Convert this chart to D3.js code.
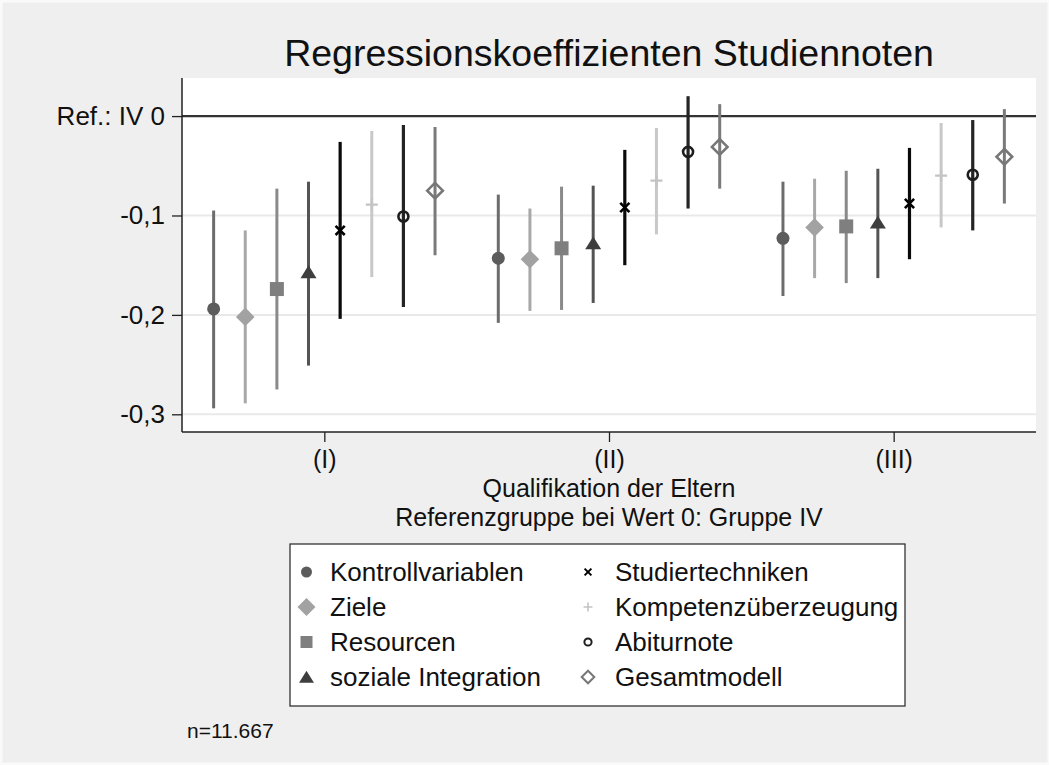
<!DOCTYPE html>
<html><head><meta charset="utf-8">
<script src="https://cdn.jsdelivr.net/npm/d3@7"></script>
<style>
html,body{margin:0;padding:0;background:#fafafa;}
svg{display:block;font-family:Arial,"Liberation Sans",sans-serif;}
</style></head>
<body>
<svg id="chart" width="1049" height="765"></svg>
<script>
// ---- data ----
const groups = ["(I)", "(II)", "(III)"];
const seriesNames = ["Kontrollvariablen","Ziele","Resourcen","soziale Integration","Studiertechniken","Kompetenzüberzeugung","Abiturnote","Gesamtmodell"];
const kontrollCoef = [-0.194, -0.143, -0.123];
const kontrollLo   = [-0.294, -0.208, -0.181];
const kontrollHi   = [-0.095, -0.079, -0.066];
const zieleCoef = [-0.202, -0.144, -0.112];
const zieleLo   = [-0.289, -0.196, -0.163];
const zieleHi   = [-0.115, -0.093, -0.063];
const resCoef = [-0.174, -0.133, -0.111];
const resLo   = [-0.275, -0.195, -0.168];
const resHi   = [-0.073, -0.071, -0.055];
const sozCoef = [-0.157, -0.128, -0.107];
const sozLo   = [-0.251, -0.188, -0.163];
const sozHi   = [-0.066, -0.070, -0.053];
const studCoef = [-0.115, -0.092, -0.088];
const studLo   = [-0.204, -0.150, -0.144];
const studHi   = [-0.026, -0.034, -0.032];
const kompCoef = [-0.089, -0.065, -0.060];
const kompLo   = [-0.162, -0.119, -0.112];
const kompHi   = [-0.015, -0.012, -0.007];
const abiCoef = [-0.101, -0.036, -0.059];
const abiLo   = [-0.192, -0.093, -0.115];
const abiHi   = [-0.009, 0.020, -0.004];
const gesCoef = [-0.075, -0.031, -0.041];
const gesLo   = [-0.140, -0.073, -0.088];
const gesHi   = [-0.011, 0.012, 0.007];
const yTickValues = [0, -0.1, -0.2, -0.3];
const yTickLabels = ["Ref.: IV 0", "-0,1", "-0,2", "-0,3"];
const titleText = "Regressionskoeffizienten Studiennoten";
const xTitle1 = "Qualifikation der Eltern";
const xTitle2 = "Referenzgruppe bei Wert 0: Gruppe IV";
const noteText = "n=11.667";

const coefs = [kontrollCoef, zieleCoef, resCoef, sozCoef, studCoef, kompCoef, abiCoef, gesCoef];
const los = [kontrollLo, zieleLo, resLo, sozLo, studLo, kompLo, abiLo, gesLo];
const his = [kontrollHi, zieleHi, resHi, sozHi, studHi, kompHi, abiHi, gesHi];

// ---- styles ----
const styles = [
  {shape:"circle",   fill:"#5c5c5c", bar:"#6c6c6c", bw:3},
  {shape:"diamond",  fill:"#a2a2a2", bar:"#a8a8a8", bw:3},
  {shape:"square",   fill:"#7f7f7f", bar:"#8a8a8a", bw:3},
  {shape:"triangle", fill:"#3e3e3e", bar:"#545454", bw:3},
  {shape:"x",        fill:"#000000", bar:"#0a0a0a", bw:3.2},
  {shape:"plus",     fill:"#c4c4c4", bar:"#c8c8c8", bw:3},
  {shape:"ocircle",  fill:"#1e1e1e", bar:"#242424", bw:3.2},
  {shape:"odiamond", fill:"#777777", bar:"#7a7a7a", bw:3}
];

const svg = d3.select("#chart");
svg.append("rect").attr("x",2.5).attr("y",2.5).attr("width",1045).attr("height",760).attr("fill","#efefef");

const L = 182, R = 1036, T = 78, B = 432;
const x = d3.scaleLinear().domain([0.5, 3.5]).range([L, R]);
const y = d3.scaleLinear().domain([0.0383, -0.3178]).range([T, B]);

svg.append("rect").attr("x",L).attr("y",T).attr("width",R-L).attr("height",B-T).attr("fill","#ffffff");

// gridlines
svg.append("g").selectAll("line").data(yTickValues.filter(v=>v!==0)).join("line")
  .attr("x1",L).attr("x2",R).attr("y1",d=>y(d)).attr("y2",d=>y(d))
  .attr("stroke","#e9e9e9").attr("stroke-width",2);

// reference line
svg.append("line").attr("x1",L).attr("x2",R).attr("y1",y(0)).attr("y2",y(0))
  .attr("stroke","#333333").attr("stroke-width",2.2);

// y axis
const yAxis = d3.axisLeft(y).tickValues(yTickValues).tickSize(10).tickPadding(7)
  .tickFormat((d,i)=>yTickLabels[i]);
const gy = svg.append("g").attr("transform",`translate(${L},0)`).call(yAxis);
gy.select(".domain").attr("d",`M0,${T}V${B}`).attr("stroke","#222").attr("stroke-width",1.5);
gy.selectAll(".tick line").attr("stroke","#222").attr("stroke-width",1.3);
gy.selectAll(".tick text").attr("font-size",26).attr("fill","#111").attr("font-family","Arial, 'Liberation Sans', sans-serif");

// x axis
const xAxis = d3.axisBottom(x).tickValues([1,2,3]).tickSize(10).tickPadding(8)
  .tickFormat((d,i)=>groups[i]);
const gx = svg.append("g").attr("transform",`translate(0,${B})`).call(xAxis);
gx.select(".domain").attr("d",`M${L},0H${R}`).attr("stroke","#222").attr("stroke-width",1.5);
gx.selectAll(".tick line").attr("stroke","#222").attr("stroke-width",1.3);
gx.selectAll(".tick text").attr("font-size",25).attr("fill","#111").attr("font-family","Arial, 'Liberation Sans', sans-serif");

// marker paths
function markerPath(shape, s) {
  switch(shape){
    case "circle": case "ocircle":
      return d3.symbol().type(d3.symbolCircle).size(Math.PI*s*s)();
    case "square":
      return d3.symbol().type(d3.symbolSquare).size(4*s*s)();
    case "diamond": case "odiamond":
      return `M0,${-s}L${s},0L0,${s}L${-s},0Z`;
    case "triangle":
      return `M0,${-s*0.85}L${s},${s*0.75}L${-s},${s*0.75}Z`;
    case "x":
      return `M${-s},${-s}L${s},${s}M${-s},${s}L${s},${-s}`;
    case "plus":
      return `M${-s},0H${s}M0,${-s}V${s}`;
  }
}
const plotSize = {circle:6.5, diamond:9.3, square:7, triangle:8, x:4.6, plus:6, ocircle:5, odiamond:7.8};
const legSize  = {circle:5.5, diamond:9, square:6, triangle:7.5, x:3.4, plus:4.5, ocircle:3.6, odiamond:6.3};

function styleMarker(sel, st, legend) {
  const hollow = st.shape==="ocircle"||st.shape==="odiamond";
  const lineOnly = st.shape==="x"||st.shape==="plus";
  if (hollow) sel.attr("fill","none").attr("stroke",st.fill).attr("stroke-width",legend?2:2.6);
  else if (lineOnly) sel.attr("fill","none").attr("stroke",st.fill).attr("stroke-width",st.shape==="x"?(legend?2:2.6):(legend?1.6:2.2));
  else sel.attr("fill",st.fill).attr("stroke","none");
}

const gData = svg.append("g");
seriesNames.forEach((name, si) => {
  const st = styles[si];
  const off = (si - 3.5) / 9;
  const pts = groups.map((g, gi) => ({gx: gi+1+off, c: coefs[si][gi], lo: los[si][gi], hi: his[si][gi]}));
  const g = gData.append("g");
  g.selectAll("line").data(pts).join("line")
    .attr("x1",d=>x(d.gx)).attr("x2",d=>x(d.gx))
    .attr("y1",d=>y(d.lo)).attr("y2",d=>y(d.hi))
    .attr("stroke",st.bar).attr("stroke-width",st.bw);
  g.selectAll("path").data(pts).join("path")
    .attr("transform",d=>`translate(${x(d.gx)},${y(d.c)})`)
    .attr("d", markerPath(st.shape, plotSize[st.shape]))
    .call(sel=>styleMarker(sel, st, false));
});

// titles
svg.append("text").attr("x",(L+R)/2).attr("y",66).attr("text-anchor","middle")
  .attr("font-size",37.5).attr("fill","#111").text(titleText);
svg.append("text").attr("x",(L+R)/2).attr("y",497).attr("text-anchor","middle")
  .attr("font-size",25).attr("fill","#111").text(xTitle1);
svg.append("text").attr("x",(L+R)/2).attr("y",526).attr("text-anchor","middle")
  .attr("font-size",25).attr("fill","#111").text(xTitle2);

// legend
const legX = 290, legY = 544, legW = 615, legH = 162;
svg.append("rect").attr("x",legX).attr("y",legY).attr("width",legW).attr("height",legH)
  .attr("fill","#ffffff").attr("stroke","#333").attr("stroke-width",1.3);
const legCols = [{mx:306.5, tx:330},{mx:588, tx:615}];
const legRows = [572, 607, 642, 677];
seriesNames.forEach((name, si) => {
  const col = legCols[Math.floor(si/4)], ry = legRows[si%4];
  const st = styles[si];
  svg.append("path").attr("transform",`translate(${col.mx},${ry})`)
    .attr("d", markerPath(st.shape, legSize[st.shape]))
    .call(sel=>styleMarker(sel, st, true));
  svg.append("text").attr("x",col.tx).attr("y",ry).attr("dy","0.36em")
    .attr("font-size",26).attr("fill","#111").text(name);
});

svg.append("text").attr("x",187).attr("y",738).attr("font-size",21).attr("fill","#111").text(noteText);
</script>
</body></html>
